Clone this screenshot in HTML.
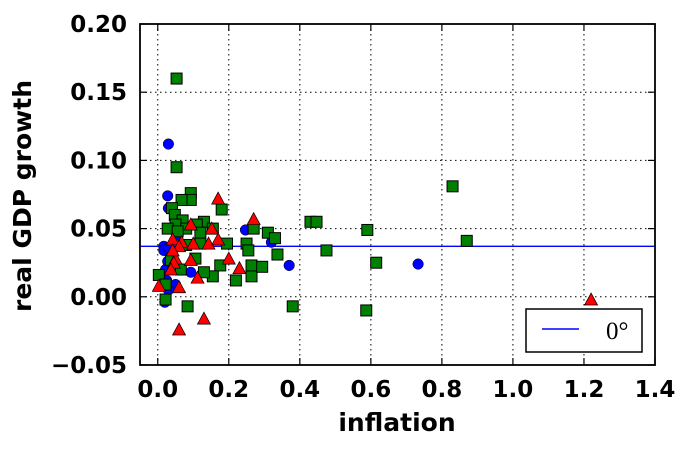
<!DOCTYPE html>
<html><head><meta charset="utf-8"><style>
body{margin:0;background:#fff;}
svg text{font-family:"DejaVu Sans","Liberation Sans",sans-serif;font-weight:bold;}
</style></head><body>
<svg id="chart" width="688" height="447" xmlns="http://www.w3.org/2000/svg">
<g id="grid"></g>
<g id="marks"></g>
<g id="axes"></g>
</svg>
<script>
const xTicks=[0.0,0.2,0.4,0.6,0.8,1.0,1.2,1.4];
const yTicks=[-0.05,0.00,0.05,0.10,0.15,0.20];
const refLineY=0.037;
const blueX=[0.03,0.028,0.03,0.247,0.32,0.37,0.733,0.017,0.017,0.028,0.022,0.025,0.02,0.02,0.093,0.05,0.03,0.053,0.03];
const blueY=[0.112,0.074,0.065,0.049,0.040,0.023,0.024,0.037,0.034,0.026,0.020,0.012,-0.002,-0.004,0.018,0.009,0.036,0.045,0.005];
const greenX=[0.053,0.053,0.093,0.093,0.067,0.18,0.04,0.048,0.07,0.13,0.05,0.11,0.08,0.028,0.056,0.12,0.155,0.27,0.31,0.43,0.447,0.59,0.83,0.87,0.33,0.195,0.25,0.255,0.12,0.08,0.337,0.475,0.22,0.264,0.264,0.294,0.176,0.155,0.106,0.065,0.037,0.003,0.022,0.084,0.38,0.587,0.615,0.13,0.022];
const greenY=[0.160,0.095,0.076,0.071,0.071,0.064,0.065,0.060,0.056,0.055,0.053,0.053,0.050,0.050,0.048,0.047,0.050,0.050,0.047,0.055,0.055,0.049,0.081,0.041,0.043,0.039,0.039,0.034,0.039,0.038,0.031,0.034,0.012,0.015,0.023,0.022,0.023,0.015,0.028,0.020,0.027,0.016,-0.002,-0.007,-0.007,-0.010,0.025,0.018,0.009];
const redX=[0.17,0.27,0.093,0.152,0.042,0.067,0.1,0.143,0.17,0.06,0.2,0.23,0.05,0.045,0.003,0.06,0.112,0.093,0.06,0.13,1.22,0.042,0.037];
const redY=[0.072,0.057,0.053,0.050,0.042,0.040,0.039,0.039,0.042,0.037,0.028,0.021,0.028,0.025,0.008,0.007,0.014,0.027,-0.024,-0.016,-0.002,0.034,0.020];
const L=140,R=655,T=24,B=365,X0=-0.05,X1=1.4,Y0=-0.05,Y1=0.20;
function sx(v){return L+(v-X0)/(X1-X0)*(R-L);}
function sy(v){return B-(v-Y0)/(Y1-Y0)*(B-T);}
const NS="http://www.w3.org/2000/svg";
function mk(tag,attrs,parent){const e=document.createElementNS(NS,tag);for(const k in attrs)e.setAttribute(k,attrs[k]);parent.appendChild(e);return e;}
const grid=document.getElementById('grid'),marks=document.getElementById('marks'),axes=document.getElementById('axes');
xTicks.forEach(t=>{const x=sx(t);
 const g=mk('line',{x1:x,x2:x,y1:T,y2:B,stroke:'#000','stroke-width':1,'stroke-dasharray':'1.5,3.5'},grid);
 
 
 const tk=mk('line',{x1:x,x2:x,y1:B,y2:B-7,stroke:'#000','stroke-width':1.2},axes);
 
 
 const tk2=mk('line',{x1:x,x2:x,y1:T,y2:T+7,stroke:'#000','stroke-width':1.2},axes);
 
 
 const tx=mk('text',{x:x,y:397,'text-anchor':'middle','font-size':23},axes);tx.textContent=t.toFixed(1);
 
 
});
yTicks.forEach(t=>{const y=sy(t);
 const g=mk('line',{x1:L,x2:R,y1:y,y2:y,stroke:'#000','stroke-width':1,'stroke-dasharray':'1.5,3.5'},grid);
 
 
 const tk=mk('line',{x1:L,x2:L+7,y1:y,y2:y,stroke:'#000','stroke-width':1.2},axes);
 
 
 const tk2=mk('line',{x1:R,x2:R-7,y1:y,y2:y,stroke:'#000','stroke-width':1.2},axes);
 
 
 const tx=mk('text',{x:127,y:y+8,'text-anchor':'end','font-size':23},axes);tx.textContent=(t<0?'\u22120.05':t.toFixed(2));
 
 
});
const rl=mk('line',{x1:L,x2:R,y1:sy(refLineY),y2:sy(refLineY),stroke:'#0000ff','stroke-width':1.3},marks);


blueX.forEach((v,i)=>{const c=mk('circle',{cx:sx(v),cy:sy(blueY[i]),r:5.3,fill:'#0000ff',stroke:'#000','stroke-width':0.5},marks);
 
 });
greenX.forEach((v,i)=>{const c=mk('rect',{x:sx(v)-5.5,y:sy(greenY[i])-5.5,width:11,height:11,fill:'#008000',stroke:'#000','stroke-width':1},marks);
 
 });
redX.forEach((v,i)=>{const x=sx(v),y=sy(redY[i]);const c=mk('polygon',{points:`${x},${y-6.5} ${x-6.5},${y+5.5} ${x+6.5},${y+5.5}`,fill:'#ff0000',stroke:'#000','stroke-width':0.7},marks);
 
 });
const fr=mk('rect',{x:L,y:T,width:R-L,height:B-T,fill:'none',stroke:'#000','stroke-width':1.8},axes);


const xl=mk('text',{x:397,y:431,'text-anchor':'middle','font-size':25},axes);xl.textContent='inflation';


const yl=mk('text',{x:0,y:0,'text-anchor':'middle','font-size':25,transform:'translate(31,196) rotate(-90)'},axes);yl.textContent='real GDP growth';


const lg=mk('g',{},axes);


mk('rect',{x:526,y:309,width:116,height:43,fill:'#fff',stroke:'#000','stroke-width':1.5},lg);
mk('line',{x1:542,x2:579,y1:329,y2:329,stroke:'#0000ff','stroke-width':1.5},lg);
const lt=mk('text',{x:606,y:339,'font-size':25,style:'font-family:"Liberation Serif",serif;font-weight:normal'},lg);lt.textContent='0\u00b0';


</script>
</body></html>
